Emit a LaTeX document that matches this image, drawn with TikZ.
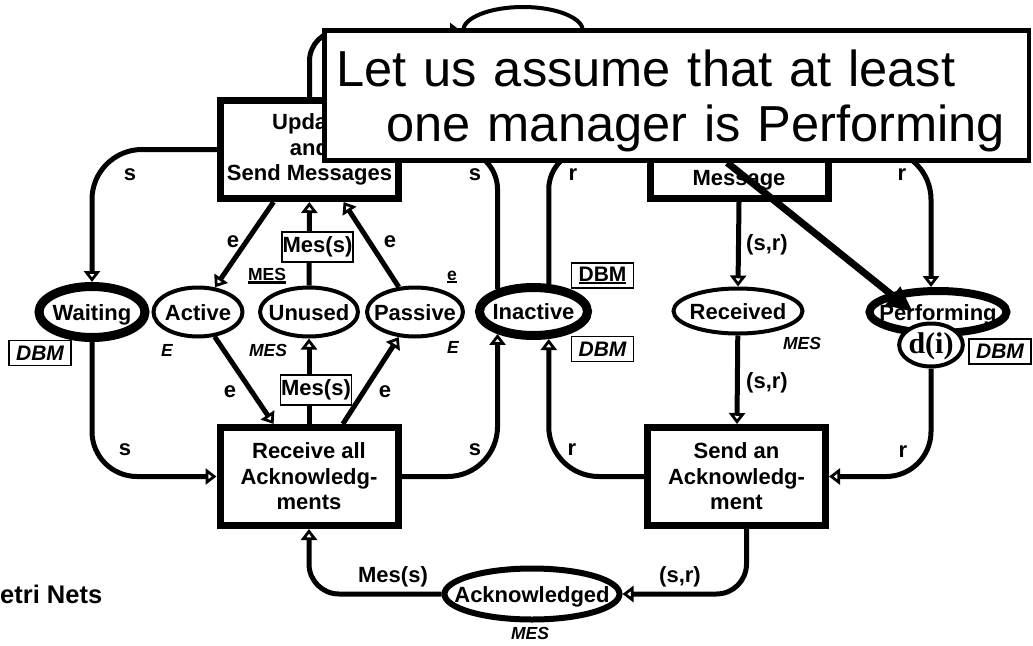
\documentclass[tikz,border=0pt]{standalone}
\usepackage{fontspec}
\setmainfont{Liberation Sans}
\newfontfamily\timesfont{Liberation Serif}
\usetikzlibrary{shapes.geometric,arrows.meta}

\newcommand{\lbl}{\fontsize{22}{25.5}\selectfont\bfseries}
\newcommand{\sm}{\fontsize{17.5}{20}\selectfont\bfseries}
\newcommand{\nm}[1]{\makebox[0pt]{#1}}
\newcommand{\underscored}[1]{\setbox0=\hbox{#1}\rlap{\rule[-3pt]{\wd0}{2.5pt}}\box0}

\tikzset{
  place/.style={ellipse, draw, line width=4, inner sep=0, text height=16pt, text depth=0pt, font=\lbl},
  bigplace/.style={place, line width=9},
  trans/.style={rectangle, draw, line width=7, fill=white, inner sep=2, minimum width=178, minimum height=98, align=center, font=\lbl},
  netarc/.style={line width=5, rounded corners=40, -{Triangle[open, length=11pt, width=16pt]}},
  inscr/.style={font=\lbl, inner sep=1},
  tag/.style={draw, line width=1.2, fill=white, inner sep=0, minimum width=71, minimum height=30, font=\lbl},
  dbm/.style={draw, line width=1.2, inner sep=0, minimum width=62, minimum height=25, font=\fontsize{21}{24}\selectfont\bfseries},
  decl/.style={font=\sm\itshape, inner sep=1},
  declu/.style={font=\sm, inner sep=1},
  note/.style={draw, line width=4.5, fill=white, minimum width=704.5, minimum height=130, text width=680.5, inner xsep=12, align=left, font=\fontsize{50.6}{55}\selectfont},
  pointer/.style={line width=7, -{Triangle[length=26pt, width=22pt]}}
}

\begin{document}
\begin{tikzpicture}[x=1pt,y=-1pt]
  \useasboundingbox (0,0) rectangle (1033,645);

  % places
  \node[bigplace, minimum width=106, minimum height=51] (waiting) at (92,312) {\nm{Waiting}};
  \node[place, minimum width=89, minimum height=49] (active) at (198,312) {\nm{Active}};
  \node[place, minimum width=98, minimum height=49] (unused) at (309,312) {\nm{Unused}};
  \node[place, minimum width=96, minimum height=49] (passive) at (415,312) {\nm{Passive}};
  \node[bigplace, minimum width=108, minimum height=48] (inactive) at (533.5,311.5) {\nm{Inactive}};
  \node[place, minimum width=129, minimum height=45] (received) at (738,311) {\nm{Received}};
  \node[bigplace, line width=8, minimum width=137, minimum height=42] (performing) at (938,312) {\nm{Performing}};
  \node[place, fill=white, minimum width=58, minimum height=43, text height=16pt, font=\timesfont\fontsize{30}{30}\selectfont\bfseries] (di) at (931,345) {d(i)};
  \node[place, line width=6, minimum width=175, minimum height=51] (acked) at (532,594) {\nm{Acknowledged}};
  \node[place, minimum width=120, minimum height=48] (sent) at (523,31) {};

  % transitions
  \node[trans] (update) at (309.5,149.5) {Update\\and\\Send Messages};
  \node[trans, text height=76pt, text depth=5pt] (recvmsg) at (739,149.5) {Message};
  \node[trans] (recvall) at (309,476.5) {Receive all\\Acknowledg-\\ments};
  \node[trans] (sendack) at (736.5,476.5) {Send an\\Acknowledg-\\ment};

  % arcs
  \draw[netarc, rounded corners=50] (update.west) -| (waiting.north);
  \draw[netarc] (update) -- (active);
  \draw[netarc] (unused) -- (update);
  \draw[netarc] (passive) -- (update);
  \draw[netarc, rounded corners=30] (update.north) |- (sent.west);
  \draw[netarc, rounded corners=30] (sent.east) -| (recvmsg.north);
  \draw[netarc] (inactive.148.6) |- (update.east);
  \draw[netarc] (inactive.61.4) |- (recvmsg.west);
  \draw[netarc, rounded corners=50] (recvmsg.east) -| ([xshift=-7]performing.north);
  \draw[netarc] (recvmsg.south) -- (received.north);
  \draw[netarc] (received) -- (sendack);
  \draw[netarc, rounded corners=45] (di.south) |- (sendack.east);
  \draw[netarc, rounded corners=50] (sendack.west) -| (inactive.-61.4);
  \draw[netarc, rounded corners=30] ([xshift=10]sendack.south) |- (acked.east);
  \draw[netarc, rounded corners=30] (acked.west) -| (recvall.south);
  \draw[netarc, rounded corners=45] (waiting.south) |- (recvall.west);
  \draw[netarc] (active) -- (recvall);
  \draw[netarc] (recvall) -- (unused);
  \draw[netarc] (recvall) -- (passive);
  \draw[netarc, rounded corners=50] (recvall.east) -| (inactive.-148.6);

  % arc inscriptions
  \node[inscr] at (130,175) {s};
  \node[inscr] at (233,242) {e};
  \node[tag] at (317.5,247) {Mes(s)};
  \node[inscr] at (390,242) {e};
  \node[inscr] at (475,175) {s};
  \node[inscr] at (573,175) {r};
  \node[inscr] at (767,245) {(s,r)};
  \node[inscr] at (902,175) {r};
  \node[inscr] at (230,392) {e};
  \node[tag] at (316,390) {Mes(s)};
  \node[inscr] at (385,392) {e};
  \node[inscr] at (125,450) {s};
  \node[inscr] at (475,450) {s};
  \node[inscr] at (572,450) {r};
  \node[inscr] at (767,383) {(s,r)};
  \node[inscr] at (903,452) {r};
  \node[inscr] at (393,577) {Mes(s)};
  \node[inscr] at (680,577) {(s,r)};

  % colour sets and initial markings
  \node[declu] at (267,276) {\underscored{MES}};
  \node[declu] at (452,277) {\underscored{e}};
  \node[decl] at (167,350) {E};
  \node[decl] at (268,350) {MES};
  \node[decl] at (453,347) {E};
  \node[decl] at (802,343) {MES};
  \node[decl] at (530,633) {MES};
  \node[dbm] at (40,353) {\itshape DBM};
  \node[dbm] at (602.5,275.5) {\underscored{DBM}};
  \node[dbm] at (602.5,349) {\itshape DBM};
  \node[dbm] at (1000,351.5) {\itshape DBM};

  \node[anchor=base west, inner sep=0, font=\fontsize{25.5}{28}\selectfont\bfseries] (title) at (0,603) {etri Nets};

  % remark on top
  \node[note, anchor=north west] (note) at (322.25,28.25) {\rule{0pt}{47pt}Let us assume that at least\\\hspace*{50pt}one manager is Performing};
  \coordinate (tip) at (913,312);
  \draw[pointer] ([xshift=405]note.south west) -- (tip);
\end{tikzpicture}
\end{document}
